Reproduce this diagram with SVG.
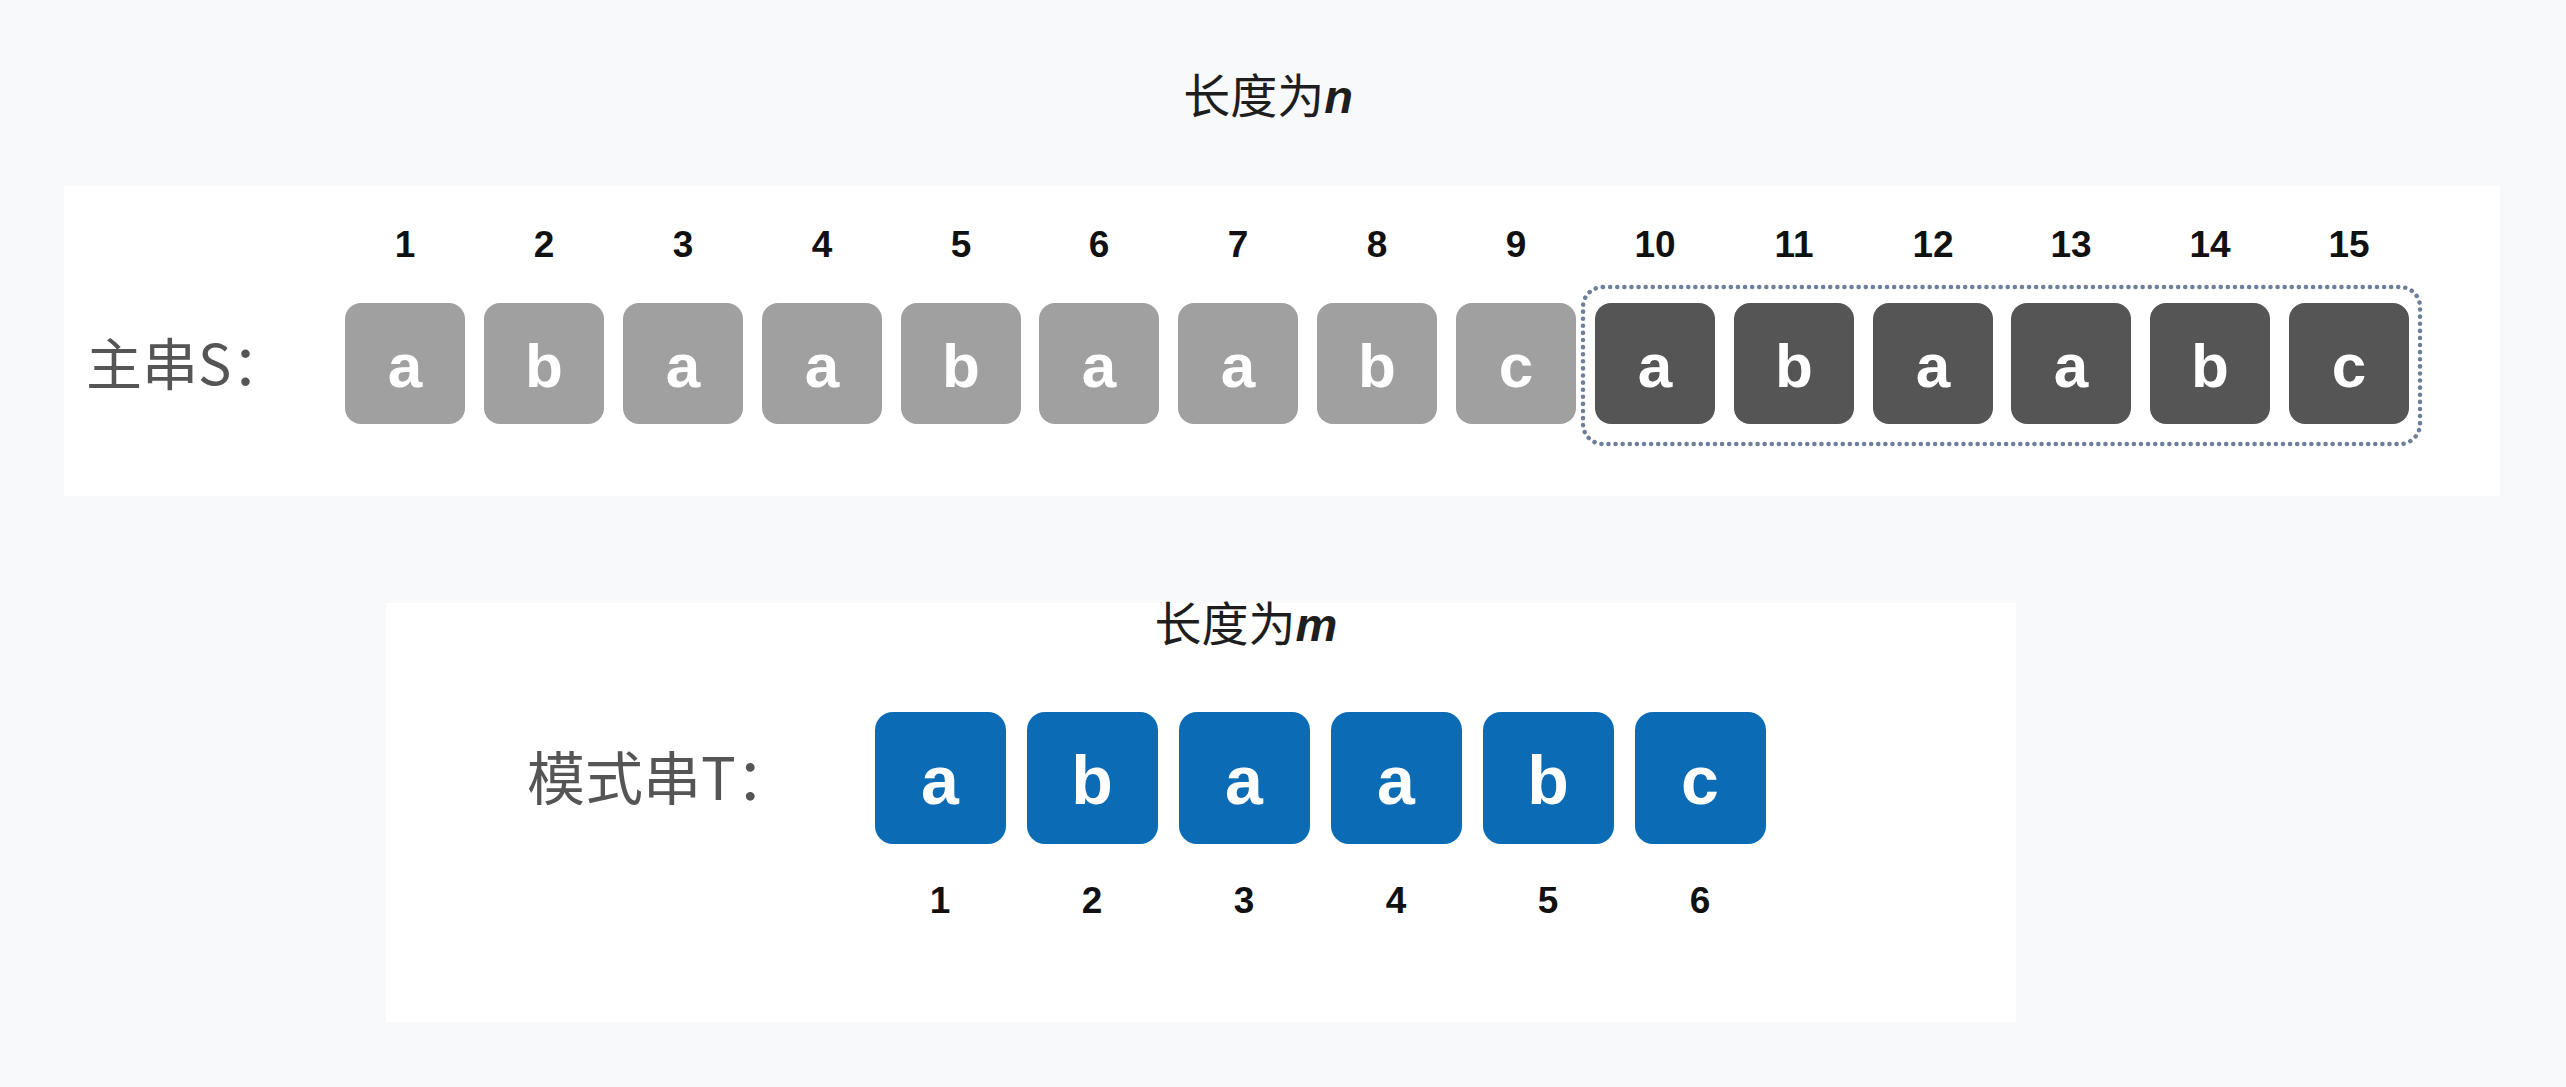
<svg xmlns="http://www.w3.org/2000/svg" width="2566" height="1087" viewBox="0 0 2566 1087">
<style>
.num{font-family:"Liberation Sans",Arial,sans-serif;font-weight:bold;font-size:37px;fill:#111;text-anchor:middle}
.ch{font-family:"Liberation Sans",Arial,sans-serif;font-weight:bold;fill:#fff;text-anchor:middle}
.lbl{font-family:"Noto Sans CJK SC","Noto Sans",sans-serif;fill:#555}
.title{font-family:"Noto Sans CJK SC","Noto Sans",sans-serif;font-size:47px;fill:#1e1e1e;text-anchor:middle}
.var{font-family:"Liberation Sans",Arial,sans-serif;font-weight:bold;font-style:italic}
.g{fill:#a0a0a0}
.d{fill:#555555}
.b{fill:#0b6cb5}
</style>
<rect width="2566" height="1087" fill="#f8f9fb"/>
<g id="panel-s"><rect x="64" y="186" width="2436" height="310" fill="#ffffff"/></g>
<g id="panel-t"><rect x="386" y="603" width="1630" height="419" fill="#ffffff"/></g>
<g id="title-n"><text class="title" x="1268" y="113">长度为<tspan class="var">n</tspan></text></g>
<g id="title-m"><text class="title" x="1246" y="641">长度为<tspan class="var">m</tspan></text></g>
<g id="label-s"><text class="lbl" x="86" y="385" font-size="56">主串S：</text></g>
<g id="label-t"><text class="lbl" x="527" y="800" font-size="58">模式串T：</text></g>
<g id="main-string">
<g id="s1"><text class="num" x="405" y="257">1</text><rect class="g" x="345" y="303" width="120" height="121" rx="16"/><text class="ch" x="405" y="387" font-size="62">a</text></g>
<g id="s2"><text class="num" x="544" y="257">2</text><rect class="g" x="484" y="303" width="120" height="121" rx="16"/><text class="ch" x="544" y="387" font-size="62">b</text></g>
<g id="s3"><text class="num" x="683" y="257">3</text><rect class="g" x="623" y="303" width="120" height="121" rx="16"/><text class="ch" x="683" y="387" font-size="62">a</text></g>
<g id="s4"><text class="num" x="822" y="257">4</text><rect class="g" x="762" y="303" width="120" height="121" rx="16"/><text class="ch" x="822" y="387" font-size="62">a</text></g>
<g id="s5"><text class="num" x="961" y="257">5</text><rect class="g" x="901" y="303" width="120" height="121" rx="16"/><text class="ch" x="961" y="387" font-size="62">b</text></g>
<g id="s6"><text class="num" x="1099" y="257">6</text><rect class="g" x="1039" y="303" width="120" height="121" rx="16"/><text class="ch" x="1099" y="387" font-size="62">a</text></g>
<g id="s7"><text class="num" x="1238" y="257">7</text><rect class="g" x="1178" y="303" width="120" height="121" rx="16"/><text class="ch" x="1238" y="387" font-size="62">a</text></g>
<g id="s8"><text class="num" x="1377" y="257">8</text><rect class="g" x="1317" y="303" width="120" height="121" rx="16"/><text class="ch" x="1377" y="387" font-size="62">b</text></g>
<g id="s9"><text class="num" x="1516" y="257">9</text><rect class="g" x="1456" y="303" width="120" height="121" rx="16"/><text class="ch" x="1516" y="387" font-size="62">c</text></g>
<g id="s10"><text class="num" x="1655" y="257">10</text><rect class="d" x="1595" y="303" width="120" height="121" rx="16"/><text class="ch" x="1655" y="387" font-size="62">a</text></g>
<g id="s11"><text class="num" x="1794" y="257">11</text><rect class="d" x="1734" y="303" width="120" height="121" rx="16"/><text class="ch" x="1794" y="387" font-size="62">b</text></g>
<g id="s12"><text class="num" x="1933" y="257">12</text><rect class="d" x="1873" y="303" width="120" height="121" rx="16"/><text class="ch" x="1933" y="387" font-size="62">a</text></g>
<g id="s13"><text class="num" x="2071" y="257">13</text><rect class="d" x="2011" y="303" width="120" height="121" rx="16"/><text class="ch" x="2071" y="387" font-size="62">a</text></g>
<g id="s14"><text class="num" x="2210" y="257">14</text><rect class="d" x="2150" y="303" width="120" height="121" rx="16"/><text class="ch" x="2210" y="387" font-size="62">b</text></g>
<g id="s15"><text class="num" x="2349" y="257">15</text><rect class="d" x="2289" y="303" width="120" height="121" rx="16"/><text class="ch" x="2349" y="387" font-size="62">c</text></g>
</g>
<g id="match-window"><rect x="1583" y="287" width="837" height="157" rx="20" fill="none" stroke="#6e7f9c" stroke-width="4.5" stroke-dasharray="0.1 7" stroke-linecap="round"/></g>
<g id="pattern-string">
<g id="t1"><rect class="b" x="875" y="712" width="131" height="132" rx="18"/><text class="ch" x="940" y="804" font-size="68">a</text><text class="num" x="940" y="913">1</text></g>
<g id="t2"><rect class="b" x="1027" y="712" width="131" height="132" rx="18"/><text class="ch" x="1092" y="804" font-size="68">b</text><text class="num" x="1092" y="913">2</text></g>
<g id="t3"><rect class="b" x="1179" y="712" width="131" height="132" rx="18"/><text class="ch" x="1244" y="804" font-size="68">a</text><text class="num" x="1244" y="913">3</text></g>
<g id="t4"><rect class="b" x="1331" y="712" width="131" height="132" rx="18"/><text class="ch" x="1396" y="804" font-size="68">a</text><text class="num" x="1396" y="913">4</text></g>
<g id="t5"><rect class="b" x="1483" y="712" width="131" height="132" rx="18"/><text class="ch" x="1548" y="804" font-size="68">b</text><text class="num" x="1548" y="913">5</text></g>
<g id="t6"><rect class="b" x="1635" y="712" width="131" height="132" rx="18"/><text class="ch" x="1700" y="804" font-size="68">c</text><text class="num" x="1700" y="913">6</text></g>
</g>
<g id="connectors"/>
</svg>
